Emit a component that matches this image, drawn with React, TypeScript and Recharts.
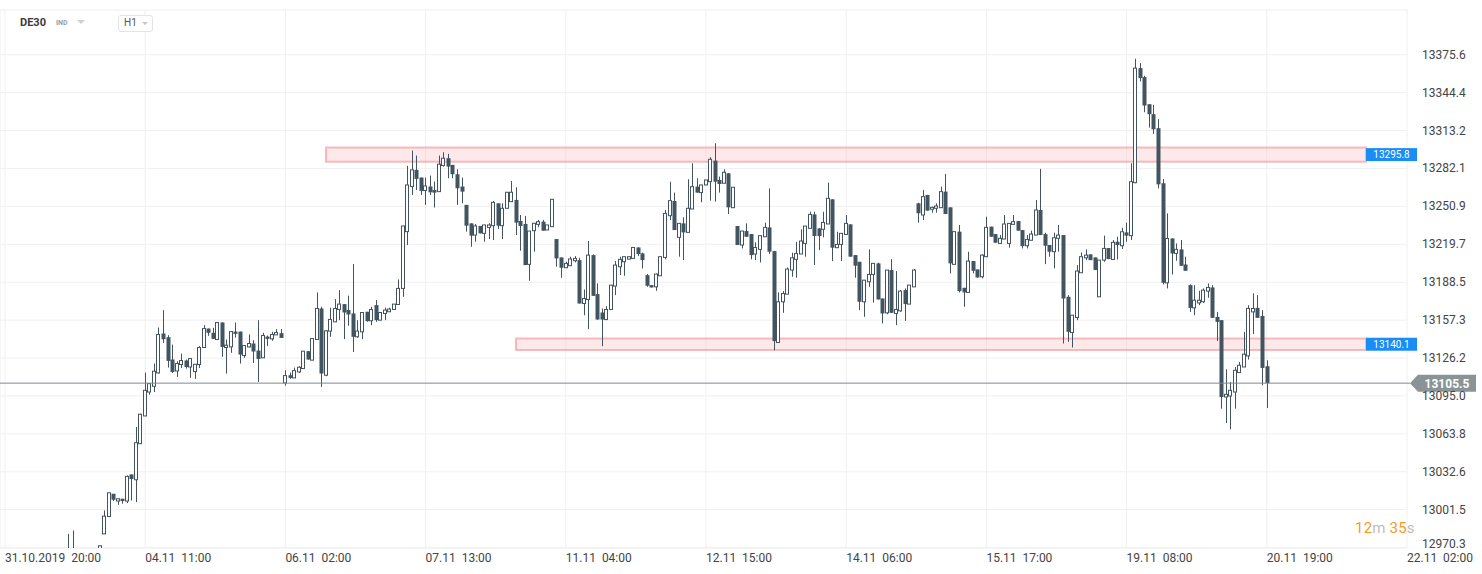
import { ComposedChart, Bar, XAxis, YAxis, CartesianGrid, ReferenceArea, ReferenceLine } from 'recharts';

// [open, high, low, close]
type Candle = [number, number, number, number];

const X_TICKS = [0, 31, 62, 93, 124, 155, 186, 217, 248, 279, 310];
const X_LABELS = [
    '31.10.2019  20:00', '04.11  11:00', '06.11  02:00', '07.11  13:00', '11.11  04:00', '12.11  15:00',
    '14.11  06:00', '15.11  17:00', '19.11  08:00', '20.11  19:00', '22.11  02:00',
];
const Y_TICKS = [
    13375.6, 13344.4, 13313.2, 13282.1, 13250.9, 13219.7, 13188.5, 13157.3, 13126.2, 13095.0, 13063.8,
    13032.6, 13001.5, 12970.3,
];

const LAST_PRICE = 13105.5;
const RESISTANCE = { label: 13295.8, from: 70.98, to: 300.94, low: 13287.5, high: 13299.4 };
const SUPPORT = { label: 13140.1, from: 112.99, to: 300.94, low: 13132.8, high: 13142.2 };

// hourly candles per session, index of the first candle given with each
const fri0111: (Candle | null)[] = [
    [12955, 12981.5, 12950, 12962], [12958, 12984.3, 12950, 12964], null, null, null, null, null,
    [12962, 12971.7, 12958, 12971.7],
];
const mon0411: Candle[] = [
    [12981.5, 13000.8, 12981.5, 12996.1], [12995.8, 13015.3, 12995.3, 13015.3], [13014.5, 13014.5, 13008.5, 13009.6],
    [13008.5, 13010.4, 13005.4, 13010.4], [13010.4, 13010.4, 13006.3, 13008.5], [13008.5, 13029.6, 13006.8, 13028.8],
    [13030.4, 13030.4, 13009.0, 13026.6], [13026.0, 13069.4, 13007.6, 13056.5], [13055.7, 13080.4, 13055.7, 13079.9],
    [13078.5, 13114.2, 13078.5, 13099.6], [13098.2, 13105.1, 13096.0, 13105.1], [13102.9, 13121.6, 13098.2, 13115.3],
    [13113.9, 13151.2, 13113.3, 13145.5], [13146.3, 13165.5, 13138.6, 13141.6], [13143.3, 13144.9, 13118.3, 13123.8],
    [13124.9, 13137.2, 13113.9, 13114.7], [13115.5, 13123.5, 13110.6, 13121.6], [13120.8, 13129.8, 13118.0, 13124.1],
    [13124.1, 13124.9, 13117.5, 13118.8], [13118.8, 13125.7, 13109.8, 13125.7],
];
const tue0511: Candle[] = [
    [13115.0, 13121.0, 13109.0, 13121.0], [13120.8, 13135.9, 13118.0, 13134.8], [13134.8, 13153.2, 13134.8, 13150.4],
    [13150.4, 13150.4, 13144.4, 13146.9], [13146.9, 13151.0, 13141.9, 13141.9], [13141.4, 13155.4, 13141.4, 13155.4],
    [13155.4, 13155.4, 13127.1, 13135.3], [13134.8, 13141.4, 13113.3, 13136.7], [13135.3, 13147.9, 13130.4, 13147.9],
    [13147.9, 13155.4, 13143.0, 13146.0], [13147.9, 13147.9, 13121.6, 13129.0], [13128.2, 13136.4, 13126.3, 13136.4],
    [13135.3, 13145.5, 13134.8, 13138.1], [13138.1, 13140.8, 13122.1, 13131.5], [13132.3, 13157.3, 13106.5, 13125.4],
    [13126.3, 13146.9, 13126.3, 13144.7], [13143.8, 13144.7, 13136.1, 13141.9], [13141.9, 13147.7, 13140.3, 13145.5],
    [13145.2, 13149.9, 13145.2, 13147.1], [13146.6, 13149.9, 13142.7, 13142.7],
];
const wed0611: Candle[] = [
    [13105.7, 13116.1, 13103.5, 13111.7], [13112.0, 13114.2, 13109.0, 13109.8], [13109.8, 13118.3, 13109.8, 13115.8],
    [13114.7, 13119.4, 13113.9, 13118.6], [13117.5, 13131.8, 13117.5, 13131.8], [13131.8, 13131.8, 13124.9, 13124.9],
    [13124.4, 13142.2, 13124.4, 13142.2], [13141.4, 13180.1, 13141.4, 13166.9], [13166.9, 13168.3, 13102.4, 13113.4],
    [13112.0, 13149.1, 13111.2, 13148.5], [13148.3, 13167.5, 13143.6, 13157.9], [13155.9, 13174.6, 13155.9, 13166.9],
    [13166.1, 13182.0, 13157.3, 13170.5], [13170.5, 13170.5, 13141.7, 13163.6], [13165.6, 13177.4, 13152.7, 13162.0],
    [13162.8, 13203.5, 13131.2, 13143.6], [13143.6, 13157.3, 13142.8, 13148.3], [13147.7, 13163.6, 13141.7, 13163.6],
    [13164.2, 13164.2, 13156.0, 13156.5], [13156.8, 13168.3, 13153.2, 13166.1],
];
const thu0711: Candle[] = [
    [13169.7, 13173.8, 13155.9, 13157.3], [13157.3, 13163.6, 13157.3, 13163.6], [13162.8, 13167.7, 13157.3, 13165.6],
    [13164.2, 13167.5, 13164.2, 13166.4], [13166.1, 13170.5, 13166.1, 13170.5], [13170.2, 13190.8, 13170.2, 13183.4],
    [13183.4, 13234.8, 13176.5, 13234.8], [13230.1, 13284.2, 13219.1, 13268.5], [13267.2, 13296.8, 13260.3, 13280.9],
    [13280.9, 13292.7, 13264.4, 13273.5], [13274.6, 13274.6, 13260.3, 13263.6], [13263.9, 13274.6, 13252.1, 13267.7],
    [13267.2, 13276.2, 13260.3, 13262.5], [13264.4, 13271.3, 13249.9, 13262.2], [13263.0, 13292.7, 13263.0, 13285.6],
    [13284.5, 13295.4, 13283.6, 13290.5], [13290.5, 13294.1, 13274.0, 13283.6], [13285.0, 13285.0, 13274.0, 13277.3],
    [13277.3, 13281.4, 13252.1, 13265.8], [13267.2, 13274.6, 13253.4, 13263.0],
];
const fri0811: Candle[] = [
    [13252.1, 13252.1, 13230.1, 13235.0], [13236.9, 13236.9, 13217.7, 13226.8], [13227.3, 13236.4, 13221.8, 13234.8],
    [13234.8, 13234.8, 13228.7, 13228.7], [13228.7, 13235.6, 13221.8, 13235.6], [13233.6, 13237.0, 13224.0, 13235.6],
    [13235.0, 13255.3, 13223.2, 13254.2], [13253.4, 13253.4, 13232.3, 13235.0], [13235.0, 13253.4, 13224.0, 13249.3],
    [13249.3, 13262.5, 13249.3, 13262.5], [13254.8, 13271.8, 13254.8, 13262.5], [13256.2, 13266.6, 13227.3, 13237.5],
    [13238.9, 13243.8, 13214.4, 13234.8], [13236.4, 13243.0, 13202.6, 13202.6], [13203.2, 13230.6, 13189.7, 13230.6],
    [13230.9, 13237.0, 13213.6, 13237.0], [13236.1, 13239.7, 13233.7, 13238.3], [13238.3, 13239.7, 13230.9, 13230.9],
    [13231.5, 13235.6, 13231.5, 13235.6], [13234.2, 13256.7, 13234.2, 13256.7],
];
const mon1111: Candle[] = [
    [13224.0, 13224.0, 13201.3, 13208.1], [13208.9, 13208.9, 13192.2, 13200.4], [13200.4, 13205.4, 13200.4, 13204.0],
    [13202.1, 13209.5, 13202.1, 13207.6], [13206.2, 13210.0, 13204.8, 13208.1], [13206.7, 13208.6, 13171.0, 13171.0],
    [13171.0, 13182.5, 13161.4, 13175.1], [13174.3, 13222.4, 13149.9, 13210.8], [13210.8, 13211.4, 13177.3, 13177.3],
    [13178.7, 13187.5, 13157.8, 13157.8], [13163.6, 13166.9, 13135.9, 13157.8], [13157.8, 13168.8, 13157.3, 13166.1],
    [13166.1, 13186.1, 13166.1, 13186.1], [13185.3, 13205.9, 13177.9, 13202.6], [13201.2, 13209.5, 13194.4, 13207.3],
    [13205.3, 13209.5, 13193.8, 13209.5], [13207.5, 13209.5, 13207.5, 13209.5], [13208.1, 13217.1, 13208.1, 13217.1],
    [13217.1, 13217.1, 13210.0, 13211.7], [13212.2, 13212.8, 13199.8, 13206.7],
];
const tue1211: Candle[] = [
    [13194.3, 13195.2, 13184.7, 13185.6], [13186.1, 13186.1, 13184.2, 13184.2], [13184.7, 13195.7, 13181.4, 13195.2],
    [13193.8, 13209.5, 13193.8, 13209.5], [13208.9, 13247.9, 13207.3, 13245.1], [13243.2, 13271.2, 13239.7, 13255.6],
    [13255.3, 13262.2, 13231.4, 13231.4], [13225.4, 13236.9, 13209.5, 13236.9], [13236.9, 13241.9, 13206.7, 13229.5],
    [13229.5, 13273.2, 13229.5, 13249.3], [13248.7, 13286.3, 13248.7, 13267.1], [13267.1, 13274.0, 13262.2, 13262.2],
    [13262.2, 13268.5, 13254.2, 13268.5], [13268.5, 13272.6, 13268.5, 13272.6], [13271.2, 13291.3, 13255.6, 13289.6],
    [13288.5, 13302.8, 13254.8, 13271.2], [13272.6, 13275.4, 13262.2, 13269.3], [13269.9, 13281.4, 13269.9, 13278.9],
    [13278.1, 13278.1, 13244.6, 13250.1], [13249.8, 13266.6, 13249.8, 13266.6],
];
const wed1311: Candle[] = [
    [13234.7, 13234.7, 13219.1, 13219.1], [13219.1, 13230.6, 13216.3, 13230.6], [13230.6, 13236.9, 13225.9, 13225.9],
    [13228.1, 13228.1, 13207.3, 13210.8], [13211.7, 13221.3, 13206.7, 13217.1], [13215.5, 13226.8, 13204.8, 13226.8],
    [13225.9, 13237.5, 13225.9, 13233.6], [13233.6, 13265.7, 13211.7, 13213.6], [13214.1, 13214.1, 13132.6, 13140.0],
    [13138.9, 13180.1, 13138.9, 13172.4], [13172.4, 13181.2, 13163.3, 13179.2], [13178.7, 13200.7, 13178.7, 13199.3],
    [13198.5, 13212.8, 13193.0, 13208.6], [13207.3, 13221.8, 13192.2, 13212.2], [13211.7, 13232.0, 13211.7, 13222.4],
    [13220.4, 13234.7, 13209.5, 13234.7], [13232.8, 13246.5, 13232.8, 13244.3], [13244.3, 13246.5, 13202.6, 13226.5],
    [13232.8, 13232.8, 13214.9, 13226.5], [13232.0, 13246.5, 13225.4, 13237.7],
];
const thu1411: Candle[] = [
    [13236.4, 13270.4, 13236.4, 13257.5], [13256.7, 13256.7, 13205.9, 13216.9], [13216.9, 13230.0, 13216.9, 13219.6],
    [13219.6, 13228.7, 13205.9, 13228.7], [13227.8, 13243.8, 13227.8, 13236.9], [13236.1, 13236.1, 13209.5, 13209.5],
    [13210.8, 13210.8, 13192.2, 13202.1], [13205.3, 13205.3, 13165.5, 13172.4], [13172.4, 13190.2, 13160.0, 13190.2],
    [13188.9, 13215.5, 13184.7, 13194.9], [13194.9, 13204.0, 13171.8, 13204.0], [13204.0, 13204.6, 13174.3, 13174.3],
    [13175.1, 13175.1, 13154.6, 13162.8], [13163.3, 13198.5, 13162.2, 13198.5], [13198.5, 13207.5, 13163.3, 13163.3],
    [13162.8, 13197.7, 13153.2, 13166.1], [13165.0, 13182.0, 13164.2, 13181.2], [13182.0, 13183.4, 13156.7, 13170.5],
    [13170.5, 13186.1, 13170.5, 13186.1], [13184.7, 13199.3, 13184.7, 13198.5],
];
const fri1511: Candle[] = [
    [13253.4, 13253.9, 13237.5, 13245.2], [13243.8, 13264.4, 13239.7, 13258.9], [13260.3, 13260.3, 13247.4, 13247.4],
    [13248.5, 13250.7, 13245.7, 13250.1], [13249.3, 13253.4, 13245.7, 13251.2], [13249.8, 13267.1, 13249.8, 13263.0],
    [13263.0, 13277.6, 13244.6, 13244.6], [13250.1, 13250.1, 13195.7, 13204.0], [13203.2, 13230.1, 13203.2, 13230.1],
    [13230.1, 13235.6, 13180.1, 13181.2], [13183.9, 13183.9, 13168.3, 13180.1], [13180.1, 13213.6, 13180.1, 13205.9],
    [13205.9, 13205.9, 13195.7, 13197.9], [13199.0, 13199.0, 13192.4, 13192.4], [13193.0, 13211.4, 13191.6, 13210.8],
    [13209.5, 13242.4, 13209.5, 13233.6], [13234.2, 13234.2, 13225.9, 13225.9], [13228.1, 13228.1, 13221.0, 13221.0],
    [13220.4, 13227.3, 13220.4, 13224.6], [13224.0, 13243.8, 13224.0, 13236.4],
];
const mon1811: Candle[] = [
    [13220.4, 13236.9, 13216.9, 13236.9], [13236.1, 13243.8, 13235.6, 13238.3], [13238.8, 13238.8, 13230.9, 13230.9],
    [13231.4, 13231.4, 13216.3, 13218.2], [13218.5, 13227.3, 13216.3, 13223.7], [13223.0, 13230.9, 13223.0, 13228.1],
    [13227.3, 13256.1, 13227.3, 13247.9], [13247.9, 13281.7, 13227.3, 13227.3], [13228.1, 13229.2, 13203.4, 13218.5],
    [13219.1, 13219.1, 13209.5, 13213.6], [13213.6, 13229.2, 13199.9, 13225.1], [13224.6, 13235.6, 13213.6, 13227.3],
    [13227.3, 13227.3, 13138.1, 13175.1], [13176.5, 13177.9, 13139.4, 13147.7], [13147.1, 13161.4, 13134.8, 13161.4],
    [13159.5, 13202.6, 13157.3, 13197.7], [13196.3, 13213.0, 13196.3, 13209.5], [13208.6, 13215.5, 13206.7, 13210.8],
    [13211.4, 13211.4, 13206.7, 13206.7], [13208.9, 13208.9, 13198.5, 13198.5],
];
const tue1911: Candle[] = [
    [13176.5, 13206.7, 13176.5, 13206.7], [13206.7, 13226.8, 13205.3, 13216.3], [13216.6, 13216.6, 13207.5, 13207.5],
    [13207.2, 13223.2, 13207.2, 13221.3], [13221.8, 13225.9, 13207.2, 13219.1], [13218.5, 13233.3, 13215.8, 13230.0],
    [13229.5, 13237.5, 13221.8, 13226.8], [13226.8, 13286.3, 13223.2, 13271.2], [13270.4, 13372.3, 13269.9, 13364.6],
    [13364.6, 13368.7, 13353.6, 13356.4], [13357.2, 13358.3, 13328.3, 13333.8], [13334.9, 13334.9, 13315.7, 13326.7],
    [13326.7, 13334.4, 13310.5, 13314.3], [13315.2, 13322.6, 13265.7, 13269.0], [13269.9, 13273.4, 13186.7, 13188.0],
    [13188.0, 13245.1, 13183.4, 13224.5], [13224.5, 13224.5, 13194.9, 13212.2], [13212.2, 13220.4, 13206.2, 13215.5],
    [13215.5, 13223.2, 13202.0, 13202.0], [13203.1, 13209.5, 13197.9, 13197.9],
];
const wed2011: Candle[] = [
    [13186.1, 13186.7, 13164.1, 13167.4], [13167.4, 13186.1, 13161.4, 13173.7], [13171.5, 13181.4, 13169.6, 13173.7],
    [13172.4, 13183.4, 13171.5, 13182.0], [13181.2, 13187.5, 13175.7, 13184.2], [13184.2, 13186.1, 13159.2, 13159.2],
    [13160.0, 13164.1, 13140.2, 13155.9], [13157.3, 13157.3, 13084.5, 13094.1], [13094.1, 13116.9, 13072.7, 13096.3],
    [13094.9, 13106.5, 13067.5, 13099.6], [13098.2, 13118.8, 13084.5, 13116.1], [13114.2, 13122.9, 13114.2, 13120.2],
    [13118.8, 13147.7, 13118.8, 13129.3], [13127.9, 13169.6, 13124.9, 13166.9], [13164.1, 13179.3, 13145.8, 13166.9],
    [13167.4, 13177.9, 13159.2, 13159.2], [13160.8, 13165.5, 13103.7, 13118.0], [13119.4, 13124.3, 13085.0, 13105.5],
];

const SESSIONS: [number, (Candle | null)[]][] = [
    [14, fri0111], [22, mon0411], [42, tue0511], [62, wed0611], [82, thu0711], [102, fri0811],
    [122, mon1111], [142, tue1211], [162, wed1311], [182, thu1411], [202, fri1511], [222, mon1811],
    [242, tue1911], [262, wed2011],
];

const CANDLE = '#435461';
const GRID = '#f0f0f0';

const rows: { i: number; open: number; high: number; low: number; close: number; range: [number, number] }[] = [];
SESSIONS.forEach(([start, list]) => {
    list.forEach((c, k) => {
        if (!c) return;
        rows.push({ i: start + k, open: c[0], high: c[1], low: c[2], close: c[3], range: [c[2], c[1]] });
    });
});

function CandleShape(props: any) {
    const { x, y, width, height, payload } = props;
    if (!payload || x == null) return null;
    const { open, high, low, close } = payload;
    const top = Math.min(y, y + height);
    const bottom = Math.max(y, y + height);
    const k = high > low ? (bottom - top) / (high - low) : 0;
    const py = (v: number) => top + (high - v) * k;
    const cx = Math.round(x + width / 2) + 0.5;
    const bTop = py(Math.max(open, close));
    const bBot = py(Math.min(open, close));
    const h = Math.max(bBot - bTop, 1);
    return (
        <g>
            <line x1={cx} x2={cx} y1={top} y2={bottom} stroke={CANDLE} strokeWidth={1} />
            {close >= open ? (
                <rect x={cx - 2} y={bTop} width={3} height={h} fill="#fff" stroke={CANDLE} strokeWidth={1} />
            ) : (
                <rect x={cx - 2} y={bTop} width={4} height={h} fill={CANDLE} />
            )}
        </g>
    );
}

function XTick({ x, y, payload }: any) {
    const label = X_LABELS[X_TICKS.indexOf(payload.value)];
    return (
        <text x={x} y={y + 14} textAnchor="start" fontSize={12} fill="#444" fontFamily="Roboto" style={{ whiteSpace: 'pre' }}>
            {label}
        </text>
    );
}

function YTick({ x, y, payload }: any) {
    // the lowest label sits a little above its line, as in the original
    const lift = payload.value === Y_TICKS[Y_TICKS.length - 1] ? -4 : 0;
    return (
        <text x={x + 15} y={y + 4 + lift} textAnchor="start" fontSize={12} fill="#444" fontFamily="Roboto">
            {Number(payload.value).toFixed(1)}
        </text>
    );
}

function BlueTag({ viewBox, value }: any) {
    if (!viewBox) return null;
    const x = viewBox.x + viewBox.width;
    const cy = viewBox.y + viewBox.height / 2;
    return (
        <g>
            <rect x={x} y={cy - 6.5} width={51} height={13} fill="#1a8cf5" />
            <text x={x + 25.5} y={cy + 3.5} textAnchor="middle" fontSize={10} fill="#fff" fontFamily="Roboto">
                {value.toFixed(1)}
            </text>
        </g>
    );
}

function PriceTag({ viewBox }: any) {
    if (!viewBox) return null;
    const x0 = viewBox.x + viewBox.width;
    const cy = viewBox.y;
    const tip = x0 + 3;
    return (
        <g>
            <line x1={x0} x2={tip} y1={cy} y2={cy} stroke="#7f8a8f" />
            <path d={`M${tip},${cy} L${tip + 8},${cy - 8.5} L${tip + 66},${cy - 8.5} L${tip + 66},${cy + 8.5} L${tip + 8},${cy + 8.5} Z`} fill="#8a9396" />
            <text x={tip + 37} y={cy + 4.5} textAnchor="middle" fontSize={12} fontWeight="bold" fill="#fff" fontFamily="Roboto">
                {LAST_PRICE.toFixed(1)}
            </text>
        </g>
    );
}

export default function App() {
    return (
        <div style={{ position: 'absolute', left: 0, top: 0, width: 1482, height: 574, background: '#fff', fontFamily: 'Roboto' }}>
            <ComposedChart width={1482} height={574} data={rows} margin={{ top: 10, right: 0, left: 0, bottom: 0 }}>
                <CartesianGrid stroke={GRID} />
                <XAxis
                    dataKey="i"
                    type="number"
                    domain={[-1.1, 310]}
                    ticks={X_TICKS}
                    interval={0}
                    allowDataOverflow
                    axisLine={false}
                    tickLine={false}
                    tickSize={0}
                    tickMargin={0}
                    height={26}
                    tick={<XTick />}
                />
                <YAxis
                    orientation="right"
                    type="number"
                    domain={[12969.9, 13412.4]}
                    ticks={Y_TICKS}
                    interval={0}
                    allowDataOverflow
                    axisLine={false}
                    tickLine={false}
                    tickSize={0}
                    tickMargin={0}
                    width={75}
                    tick={<YTick />}
                />
                <Bar dataKey="range" barSize={4} shape={<CandleShape />} isAnimationActive={false} />
                <ReferenceArea
                    x1={RESISTANCE.from}
                    x2={RESISTANCE.to}
                    y1={RESISTANCE.low}
                    y2={RESISTANCE.high}
                    fill="rgb(249,192,195)"
                    fillOpacity={0.35}
                    stroke="rgba(240,125,130,0.5)"
                    strokeWidth={2}
                    label={<BlueTag value={RESISTANCE.label} />}
                />
                <ReferenceArea
                    x1={SUPPORT.from}
                    x2={SUPPORT.to}
                    y1={SUPPORT.low}
                    y2={SUPPORT.high}
                    fill="rgb(249,192,195)"
                    fillOpacity={0.35}
                    stroke="rgba(240,125,130,0.5)"
                    strokeWidth={2}
                    label={<BlueTag value={SUPPORT.label} />}
                />
                <ReferenceLine y={LAST_PRICE} stroke="#7f8a8f" strokeWidth={1} label={<PriceTag />} />
            </ComposedChart>

            <div style={{ position: 'absolute', left: 20, top: 16, fontSize: 11, fontWeight: 'bold', color: '#3b3b3b', fontFamily: 'Roboto' }}>
                DE30
            </div>
            <div style={{ position: 'absolute', left: 56, top: 19, fontSize: 7, fontWeight: 'bold', color: '#8fa1ae', fontFamily: 'Roboto' }}>
                IND
            </div>
            <div style={{ position: 'absolute', left: 77, top: 20, width: 0, height: 0, borderLeft: '4px solid transparent', borderRight: '4px solid transparent', borderTop: '4px solid #cfcfcf' }} />
            <div style={{ position: 'absolute', left: 118, top: 15, width: 33, height: 15, border: '1px solid #e4e4e4', borderRadius: 3, background: '#fff' }}>
                <span style={{ position: 'absolute', left: 5, top: 1, fontSize: 10, color: '#555', fontFamily: 'Roboto' }}>H1</span>
                <div style={{ position: 'absolute', left: 23, top: 6, width: 0, height: 0, borderLeft: '3.5px solid transparent', borderRight: '3.5px solid transparent', borderTop: '3.5px solid #c8c8c8' }} />
            </div>
            <div style={{ position: 'absolute', left: 1355, top: 519, fontSize: 15, fontFamily: 'Roboto', whiteSpace: 'pre', letterSpacing: 0.2 }}>
                <span style={{ color: '#f99a1c' }}>12</span>
                <span style={{ color: '#bdbdbd' }}>m </span>
                <span style={{ color: '#f99a1c' }}>35</span>
                <span style={{ color: '#bdbdbd' }}>s</span>
            </div>
        </div>
    );
}
